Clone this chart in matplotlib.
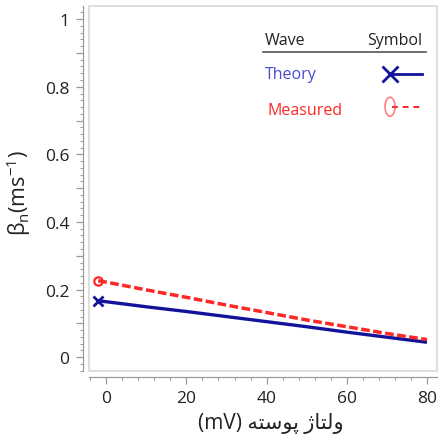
import matplotlib
matplotlib.use("Agg")
import matplotlib.pyplot as plt
from matplotlib.lines import Line2D
from matplotlib.patches import Ellipse, Rectangle
from matplotlib.ticker import MultipleLocator, FuncFormatter

plt.rcParams['font.family'] = ['Open Sans', 'DejaVu Sans']
plt.rcParams['mathtext.fontset'] = 'custom'
plt.rcParams['mathtext.rm'] = 'Open Sans'
plt.rcParams['mathtext.it'] = 'Open Sans'

# membrane voltage (mV)
voltage = [-2, 0, 10, 20, 30, 40, 50, 60, 70, 80]
# beta_n values
theory = [0.167, 0.164, 0.149, 0.135, 0.120, 0.105, 0.090, 0.074, 0.059, 0.044]
measured = [0.226, 0.222, 0.199, 0.177, 0.154, 0.132, 0.110, 0.090, 0.070, 0.052]

legend_labels = ["Theory", "Measured"]
xticks = [0, 20, 40, 60, 80]

NAVY = "#12129a"
RED = "#ff2626"
AXGRAY = "#9a9a9a"

# "ولتاژ پوسته" pre-shaped into visual (left-to-right) order
fa_label = "\uFEEA\uFE98\uFEB3\uFEEE\uFB58 \uFB8A\uFE8E\uFE98\uFEDF\uFEED"

fig = plt.figure(figsize=(4.4, 4.35), dpi=100)
ax = fig.add_axes([89 / 440, 1 - 372 / 435, 348 / 440, 365 / 435])

ax.plot(voltage, theory, color=NAVY, lw=2.4, marker="x", markevery=[0],
        ms=7, mew=2, solid_capstyle="butt")
ax.plot(voltage, measured, color=RED, lw=2.5, ls=(0, (2.5, 1.0)), marker="o",
        markevery=[0], ms=6, mew=1.6, mfc="none")

ax.set_xlim(-4.3, 82.5)
ax.set_ylim(-0.041, 1.039)

# light frame around the plot area
for s in ["top", "right"]:
    ax.spines[s].set_visible(False)
ax.add_patch(Rectangle((0, 0), 1, 1, transform=ax.transAxes, fill=False,
                       ec="#d8d8d8", lw=1.2, clip_on=False, zorder=0))
for s in ["left", "bottom"]:
    ax.spines[s].set_position(("outward", 4))
    ax.spines[s].set_color(AXGRAY)
    ax.spines[s].set_linewidth(0.9)

ax.xaxis.set_major_locator(MultipleLocator(20))
ax.xaxis.set_minor_locator(MultipleLocator(4))
ax.yaxis.set_major_locator(MultipleLocator(0.1))
ax.yaxis.set_minor_locator(MultipleLocator(0.02))


def yfmt(v, pos):
    k = int(round(v * 10))
    if k % 2:
        return ""
    if k == 0:
        return "0"
    if k == 10:
        return "1"
    return f"{v:.1f}"


ax.yaxis.set_major_formatter(FuncFormatter(yfmt))
ax.set_xticks(xticks)
ax.tick_params(which="major", length=5, width=0.9, color=AXGRAY,
               labelsize=12.5, labelcolor="#222222", pad=5)
ax.tick_params(which="minor", length=2.5, width=0.7, color=AXGRAY)

ax.set_ylabel(r"$\mathregular{\beta_n(ms^{-1})}$", fontsize=15.5, color="#222222")
ax.yaxis.set_label_coords(-0.16, 0.49)
ax.set_xlabel("(mV) " + fa_label, fontsize=15, color="#222222",
              family=["Open Sans", "DejaVu Sans"])
ax.xaxis.set_label_coords(0.523, -0.112)

# table-like legend in the upper right
tr = ax.transAxes
ax.text(0.506, 0.908, "Wave", transform=tr, fontsize=11.5, color="#222222",
        va="center", ha="left")
ax.text(0.958, 0.908, "Symbol", transform=tr, fontsize=11.5, color="#222222",
        va="center", ha="right")
ax.add_line(Line2D([0.50, 0.968], [0.873, 0.873], transform=tr,
                   color="#555555", lw=1.2))
ax.text(0.506, 0.813, legend_labels[0], transform=tr, fontsize=11.5,
        color="#4a4ad2", va="center", ha="left")
ax.text(0.514, 0.715, legend_labels[1], transform=tr, fontsize=11.5,
        color=RED, va="center", ha="left")
ax.add_line(Line2D([0.865, 0.957], [0.813, 0.813], transform=tr,
                   color=NAVY, lw=2))
ax.add_line(Line2D([0.865], [0.813], transform=tr, color=NAVY, marker="x",
                   ms=12, mew=2))
ax.add_line(Line2D([0.872, 0.957], [0.724, 0.724], transform=tr,
                   color=RED, lw=1.4, ls=(0, (3, 2.5))))
ax.add_patch(Ellipse((0.865, 0.724), 10 / 348, 19 / 365, transform=tr,
                     fill=False, ec="#ff8080", lw=1.2))

fig.savefig("out.png", dpi=100)
